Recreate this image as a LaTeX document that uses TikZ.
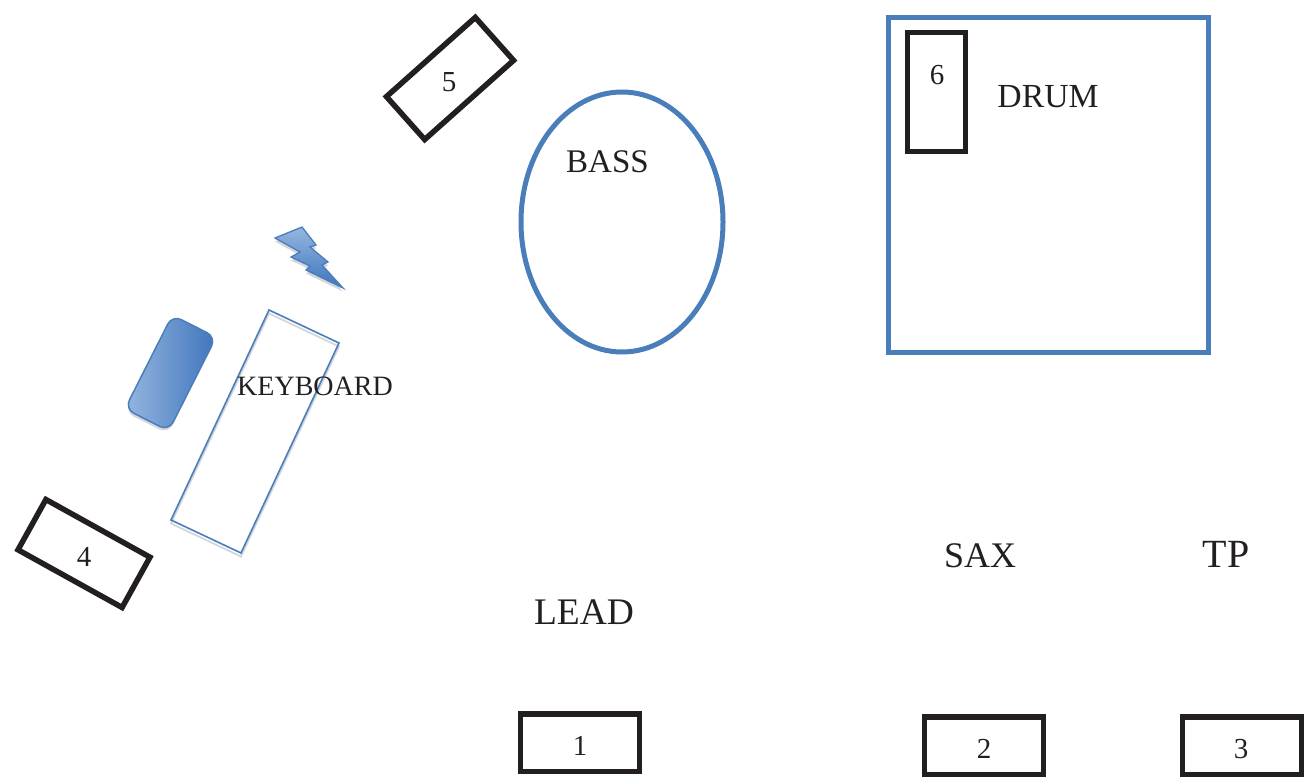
\documentclass[tikz,border=0pt]{standalone}
\usepackage{fontspec}
\usetikzlibrary{shapes.geometric}
\setmainfont{Liberation Serif}
\definecolor{stageblue}{HTML}{4A7EBB}
\definecolor{inkblack}{HTML}{231F20}
\definecolor{lightblue}{HTML}{95B6E0}
\definecolor{darkblue}{HTML}{3F75BC}
\definecolor{softshadow}{HTML}{D4D6D9}
\newcommand{\sz}[1]{\fontsize{#1}{#1}\selectfont}
\tikzset{
  monbox/.style={draw=inkblack,line width=5.5pt,rectangle,inner sep=0pt,minimum width=119pt,minimum height=57.5pt},
  zone/.style={draw=stageblue,line width=5pt,inner sep=0pt},
  label/.style={inner sep=0pt,text=inkblack,anchor=center},
  thinblue/.style={draw=stageblue,line width=1.6pt,line join=miter},
  shadowline/.style={draw=softshadow,line width=1.8pt}
}
\begin{document}
\begin{tikzpicture}[x=1pt,y=-1pt]
\useasboundingbox (0,0) rectangle (1304,779);
% drum riser and bass
\node[zone,rectangle,minimum width=320.5pt,minimum height=335.5pt] (drum) at (1048.5,185) {};
\node[zone,ellipse,minimum width=202pt,minimum height=260pt] (bass) at (622,222) {};
% monitors
\node[monbox] (m1) at (580,742.5) {};
\node[monbox] (m2) at (984,745.5) {};
\node[monbox] (m3) at (1242,745.5) {};
\node[monbox,rotate=-29] (m4) at (84,553.5) {};
\node[monbox,rotate=41.7] (m5) at (450,78.5) {};
\node[monbox,minimum width=58pt,minimum height=119pt] (m6) at (936.5,92) {};
% keyboard
\draw[shadowline,yshift=-3.5pt] (269,310) -- (339,343) -- (241,553) -- (171,520) -- cycle;
\draw[thinblue] (269,310) -- (339,343) -- (241,553) -- (171,520) -- cycle;
% amp
\node[rectangle,rounded corners=10pt,fill=softshadow,minimum width=49pt,minimum height=105pt,inner sep=0pt,rotate=-26.8] (ampshadow) at (170,376) {};
\node[rectangle,rounded corners=10pt,draw=stageblue,line width=1.5pt,left color=lightblue,right color=darkblue,minimum width=49pt,minimum height=105pt,inner sep=0pt,rotate=-26.8] (amp) at (170.5,373) {};
% bolt
\fill[softshadow,yshift=-3.5pt] (275,238) -- (302,227) -- (316,245) -- (310,247) -- (328,262) -- (322,265) -- (343,288) -- (306,270) -- (310,266) -- (291,257) -- (300,252) -- cycle;
\draw[stageblue,line width=1.3pt,line join=miter,top color=lightblue,bottom color=darkblue]
  (275,238) -- (302,227) -- (316,245) -- (310,247) -- (328,262) -- (322,265) -- (343,288) -- (306,270) -- (310,266) -- (291,257) -- (300,252) -- cycle;
% labels
\node[label] (l1) at (580,746) {\sz{29}1};
\node[label] (l2) at (984,749) {\sz{29}2};
\node[label] (l3) at (1241,749) {\sz{29}3};
\node[label] (l4) at (84,557) {\sz{29}4};
\node[label] (l5) at (449,82) {\sz{29}5};
\node[label] (l6) at (937,75) {\sz{29}6};
\node[label] (drumt) at (1048,97) {\sz{33.7}DRUM};
\node[label] (basst) at (607.5,162) {\sz{33}BASS};
\node[label] (keyt) at (315,386) {\sz{28}KEYBOARD};
\node[label] (leadt) at (584,612) {\sz{37.5}LEAD};
\node[label] (saxt) at (980,556) {\sz{36}SAX};
\node[label] (tpt) at (1226,554) {\sz{40}TP};
\end{tikzpicture}
\end{document}
